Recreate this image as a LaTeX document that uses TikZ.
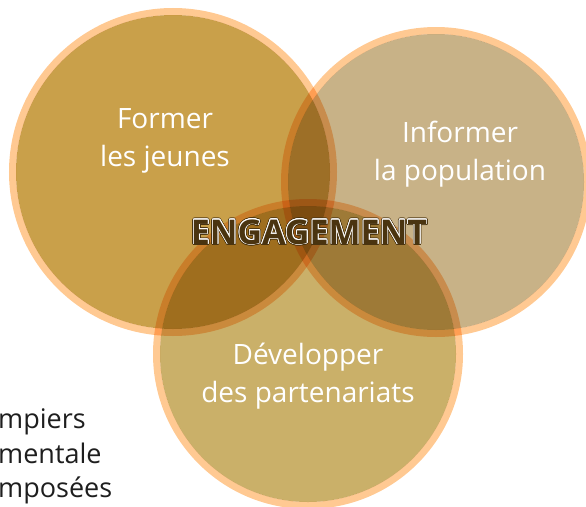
\documentclass[tikz,border=0pt]{standalone}
\usepackage{fontspec}
\setmainfont{Open Sans}
\usetikzlibrary{positioning}
\definecolor{goldfill}{RGB}{201,160,74}
\definecolor{tanfill}{RGB}{200,178,135}
\definecolor{ochrefill}{RGB}{202,176,105}
\definecolor{ringline}{RGB}{255,201,146}
\definecolor{engdark}{RGB}{74,52,16}
\definecolor{plaintext}{RGB}{30,30,30}

\begin{document}
\begin{tikzpicture}[x=1pt, y=-1pt,
    ring/.style={draw=ringline, line width=7pt},
    circtext/.style={text=white, align=center, font=\fontsize{28}{38}\selectfont},
    engtext/.style={font=\bfseries\fontsize{34}{40}\selectfont, inner sep=0pt},
    side/.style={text=plaintext, anchor=base west, inner sep=0pt, font=\fontsize{27}{34}\selectfont}]
    \useasboundingbox (0,0) rectangle (586,506);
    \clip (0,0) rectangle (586,506);

    % circle centres
    \coordinate (cjeunes) at (173,172);
    \coordinate (cpop) at (436,182);
    \coordinate (cpart) at (308,354);

    % the three circles, multiplied where they overlap
    \begin{scope}[blend group=multiply]
        \fill[goldfill] (cjeunes) circle (157);
        \draw[ring] (cjeunes) circle (160.5);
        \fill[tanfill] (cpop) circle (148);
        \draw[ring] (cpop) circle (151.5);
        \fill[ochrefill] (cpart) circle (148);
        \draw[ring] (cpart) circle (151.5);
    \end{scope}

    \node[circtext] (jeunes) at (165,141) {Former\\les jeunes};
    \node[circtext] (pop) at (460,154) {Informer\\la population};
    \node[circtext] (part) at (308,376) {Développer\\des partenariats};

    % outlined title
    \coordinate (ceng) at (309,232);
    \foreach \a in {0,22.5,...,337.5}
        \node[engtext, text=engdark] at ([shift={(\a:1.6)}]ceng) {ENGAGEMENT};
    \foreach \a in {0,22.5,...,337.5}
        \node[engtext, text=white] at ([shift={(\a:0.8)}]ceng) {ENGAGEMENT};
    \node[engtext, text=engdark] (eng) at (ceng) {ENGAGEMENT};

    % cut-off text on the left
    \node[side] (side1) at (-2,428) {mpiers};
    \node[side] (side2) at (-2,463) {mentale};
    \node[side] (side3) at (-2,497) {mposées};
\end{tikzpicture}
\end{document}
